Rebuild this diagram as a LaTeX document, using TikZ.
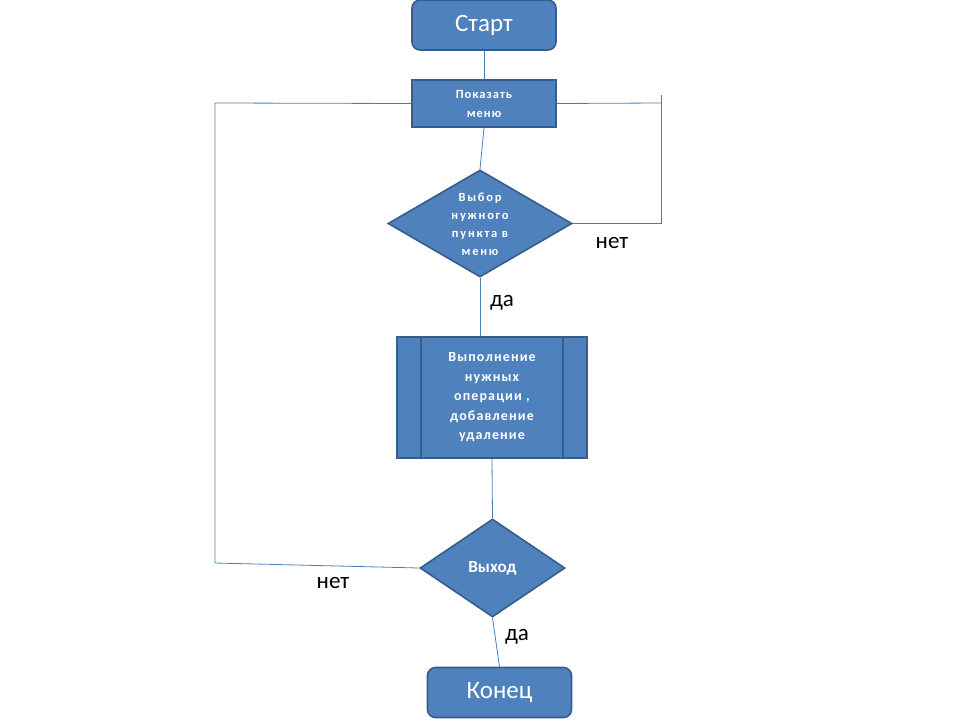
\documentclass[tikz,border=0pt]{standalone}
\usepackage{fontspec}
\setmainfont{Carlito}
\usetikzlibrary{shapes.geometric}
\definecolor{boxfill}{HTML}{4F81BD}
\definecolor{boxline}{HTML}{385D8A}
\definecolor{wire}{HTML}{4A7EBB}
\newcommand{\spaced}{\addfontfeatures{LetterSpace=8}}
\newcommand{\widespaced}{\addfontfeatures{LetterSpace=14}}
\begin{document}
\begin{tikzpicture}[x=1pt,y=-1pt,
  base/.style={fill=boxfill,draw=boxline,line width=1.6pt,text=white,align=center,inner sep=0pt},
  term/.style={base,rounded corners=8pt,minimum width=144pt,minimum height=50pt,font=\fontsize{25}{28}\selectfont},
  proc/.style={base,minimum width=144pt,minimum height=47pt,font=\bfseries\fontsize{12.5}{19}\selectfont\spaced},
  dec/.style={base,diamond,aspect=1.72},
  sub/.style={base,minimum width=190pt,minimum height=121pt,font=\bfseries\fontsize{14}{19.5}\selectfont\spaced},
  wireline/.style={draw=wire,line width=0.8pt},
  lbl/.style={font=\fontsize{23}{25}\selectfont,text=black}]
\useasboundingbox (0,0) rectangle (960,720);
\node[term] (start) at (484,25) {Старт};
\node[proc] (menu) at (484,103.5) {Показать\\меню};
\node[dec,minimum width=184pt,minimum height=107pt] (choose) at (480,223.5) {};
\node[font=\bfseries\fontsize{12.5}{18}\selectfont\widespaced,text=white,align=center] (choosetxt) at (480,224) {Выбор\\нужного\\пункта в\\меню};
\node[sub] (work) at (492,397.5) {Выполнение\\нужных\\операции ,\\добавление\\удаление};
\draw[boxline,line width=1.6pt] (421,337) -- (421,458) (563,337) -- (563,458);
\node[dec,minimum width=145pt,minimum height=98pt,font=\bfseries\fontsize{17}{19}\selectfont] (exit) at (492.5,568) {Выход};
\node[term] (end) at (499.5,692.5) {Конец};
\coordinate (rtop) at (661,95);
\coordinate (rmid) at (661,103);
\coordinate (rbot) at (661,223.5);
\coordinate (lbot) at (215,563);
\coordinate (ltop) at (215,103);
\draw[wireline] (start.south) -- (menu.north);
\draw[wireline] (menu.south) -- (choose.north);
\draw[wireline] (choose.east) -- (rbot) -- (rtop);
\draw[wireline] (menu.east) -- (rmid);
\draw[wireline] (choose.south) -- (choose.south |- work.north);
\draw[wireline] (work.south) -- (exit.north);
\draw[wireline] (exit.west) -- (lbot) -- (ltop) -- (menu.west);
\draw[wireline] (exit.south) -- (end.north);
\node[lbl] (no1) at (612,243) {нет};
\node[lbl] (yes1) at (502,303) {да};
\node[lbl] (no2) at (333,583) {нет};
\node[lbl] (yes2) at (517,637) {да};
\end{tikzpicture}
\end{document}
